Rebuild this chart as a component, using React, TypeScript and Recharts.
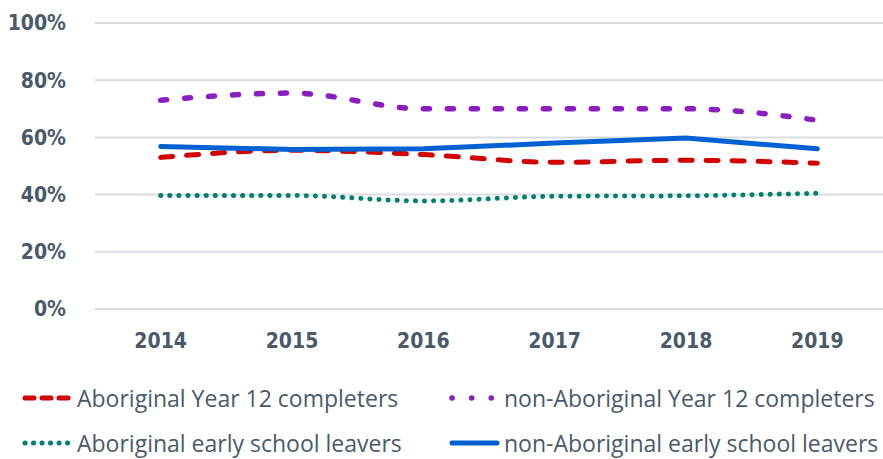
import React from "react"
import { CartesianGrid, Legend, Line, LineChart, XAxis, YAxis } from "recharts"

// values (percent)
const years = ["2014", "2015", "2016", "2017", "2018", "2019"]
const aboriginalYear12 = [53, 55.5, 54, 51.3, 52, 51]
const nonAboriginalYear12 = [73, 75.5, 70, 70, 70, 66]
const aboriginalEarlyLeavers = [39.7, 39.7, 37.8, 39.4, 39.6, 40.5]
const nonAboriginalEarlyLeavers = [56.8, 55.8, 56, 58, 59.8, 56]
const yTicks = [0, 20, 40, 60, 80, 100]

const data = years.map((year, i) => ({
  year,
  aboYr12: aboriginalYear12[i],
  nonAboYr12: nonAboriginalYear12[i],
  aboEarly: aboriginalEarlyLeavers[i],
  nonAboEarly: nonAboriginalEarlyLeavers[i],
}))

const textColor = "#4a5a6a"
const tickFont = "'DejaVu Sans Condensed', 'Open Sans', Arial, sans-serif"
const legendFont = "'Open Sans', 'Noto Sans', sans-serif"

const series = [
  { key: "aboYr12", name: "Aboriginal Year 12 completers", color: "#d20000", width: 5, dash: "12 14", legendDash: "9 8", type: "monotone" },
  { key: "nonAboYr12", name: "non-Aboriginal Year 12 completers", color: "#8c1dc0", width: 5.5, dash: "6 18", legendDash: "0.1 19.5", type: "monotone" },
  { key: "aboEarly", name: "Aboriginal early school leavers", color: "#00806e", width: 5, dash: "0.1 9", legendDash: "0.1 8.4", type: "monotone" },
  { key: "nonAboEarly", name: "non-Aboriginal early school leavers", color: "#0061d2", width: 5, dash: undefined, legendDash: undefined, type: "linear" },
] as const

// legend order in the picture: row 1 = Y12 pair, row 2 = early leavers pair
const legendSpots = [
  { left: 22, top: 26 },
  { left: 449, top: 26 },
  { left: 22, top: 71 },
  { left: 449, top: 71 },
]

function ChartLegend() {
  return (
    <div style={{ position: "relative", width: 883, height: 100 }}>
      {series.map((s, i) => (
        <div
          key={s.key}
          style={{
            position: "absolute",
            left: legendSpots[i].left,
            top: legendSpots[i].top,
            display: "flex",
            alignItems: "center",
            whiteSpace: "nowrap",
          }}
        >
          <svg width={52} height={12}>
            <line
              x1={3}
              y1={6}
              x2={48}
              y2={6}
              stroke={s.color}
              strokeWidth={s.width}
              strokeLinecap="round"
              strokeDasharray={s.legendDash}
            />
          </svg>
          <span style={{ marginLeft: 3, fontFamily: legendFont, fontSize: 23, color: textColor, lineHeight: "26px" }}>
            {s.name}
          </span>
        </div>
      ))}
    </div>
  )
}

export default function App() {
  return (
    <div style={{ position: "absolute", left: 0, top: 0, background: "#fff" }}>
      <LineChart width={883} height={459} data={data} margin={{ top: 23, right: 0, bottom: 0, left: 0 }}>
        <CartesianGrid horizontal vertical={false} stroke="#d9dde2" strokeWidth={2} />
        <XAxis
          dataKey="year"
          scale="band"
          axisLine={false}
          tickLine={false}
          tickMargin={18}
          height={50}
          tick={{ fill: textColor, fontFamily: tickFont, fontSize: 21, fontWeight: 700 }}
        />
        <YAxis
          domain={[0, 100]}
          ticks={yTicks}
          width={95}
          axisLine={false}
          tickLine={false}
          tickSize={0}
          tickMargin={29}
          tickFormatter={(v: number) => `${v}%`}
          tick={{ fill: textColor, fontFamily: tickFont, fontSize: 21, fontWeight: 700 }}
        />
        <Legend
          verticalAlign="bottom"
          height={100}
          wrapperStyle={{ left: 0, bottom: 0, width: 883 }}
          content={() => <ChartLegend />}
        />
        {series.map((s) => (
          <Line
            key={s.key}
            dataKey={s.key}
            name={s.name}
            type={s.type}
            stroke={s.color}
            strokeWidth={s.width}
            strokeDasharray={s.dash}
            strokeLinecap="round"
            dot={false}
            activeDot={false}
            isAnimationActive={false}
          />
        ))}
      </LineChart>
    </div>
  )
}
